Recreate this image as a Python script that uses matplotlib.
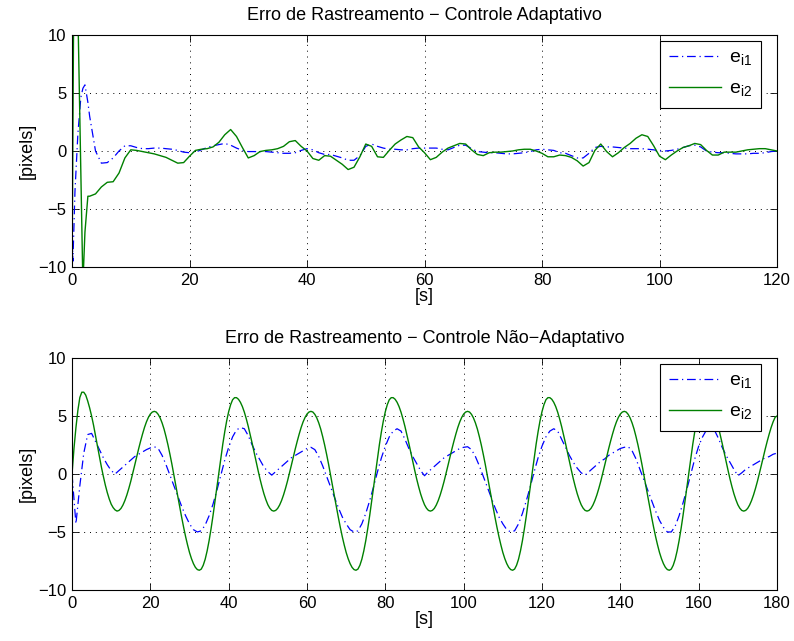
import numpy as np
import matplotlib
matplotlib.use('Agg')
import matplotlib.pyplot as plt

plt.rcParams['font.family'] = ['Liberation Sans', 'DejaVu Sans']
plt.rcParams['mathtext.fontset'] = 'custom'
plt.rcParams['mathtext.rm'] = 'Liberation Sans'

# ---- top panel: adaptive control, 0..120 s ----
t_top = [0, 0.15, 0.3, 0.5, 1.0, 1.5, 1.85, 2.2, 2.7] + list(range(3, 121))

ei1_adapt = [-6.0, -9.5, -7.0, -3.5, 1.5, 4.6, 5.4, 5.7, 4.2,
             3.0, 0.0, -1.05, -1.0, -0.6, 0.0, 0.45, 0.45, 0.3, 0.2,
             0.2, 0.25, 0.25, 0.2, 0.15, 0.05, -0.1, -0.15, -0.1, 0.1,
             0.3, 0.45, 0.55, 0.65, 0.5, 0.25, 0.05, -0.05, -0.05, -0.05,
             -0.05, -0.1, -0.15, -0.2, -0.2, -0.15, 0.05, 0.2, 0.1, -0.15,
             -0.3, -0.3, -0.45, -0.6, -0.8, -0.8, -0.4, 0.4, 0.6, 0.4,
             0.25, 0.15, 0.15, 0.1, 0.1, 0.2, 0.25, 0.25, 0.25, 0.25,
             0.15, 0.1, 0.3, 0.5, 0.5, 0.2, -0.05, -0.1, -0.15, -0.15,
             -0.2, -0.25, -0.25, -0.2, -0.15, -0.05, 0.1, 0.15, 0.1, 0.05,
             -0.15, -0.2, -0.4, -0.6, -0.6, -0.2, 0.3, 0.4, 0.35, 0.35,
             0.3, 0.25, 0.2, 0.2, 0.2, 0.15, 0.1, 0.0, 0.0, 0.05,
             0.15, 0.3, 0.45, 0.5, 0.35, 0.0, -0.1, -0.15, -0.15, -0.2,
             -0.25, -0.25, -0.25, -0.2, -0.2, -0.15, -0.05, 0.0]

ei2_adapt = [-11.0, 1.5, 14.0, 14.0, 12.0, -1.8, -11.5, -7.0, -3.9,
             -3.9, -3.7, -3.1, -2.7, -2.65, -1.9, -0.6, 0.1, 0.05, -0.05,
             -0.15, -0.25, -0.4, -0.55, -0.8, -1.05, -1.0, -0.45, 0.05, 0.15,
             0.2, 0.35, 0.75, 1.4, 1.85, 1.25, 0.3, -0.6, -0.4, -0.05,
             0.05, 0.1, 0.2, 0.4, 0.8, 0.9, 0.4, 0.0, -0.65, -0.8,
             -0.4, -0.45, -0.8, -1.15, -1.6, -1.4, -0.5, 0.6, 0.4, -0.5,
             -0.55, 0.05, 0.6, 0.95, 1.25, 1.15, 0.35, -0.15, -0.75, -0.55,
             -0.1, 0.25, 0.45, 0.65, 0.6, 0.1, -0.3, -0.4, -0.15, -0.1,
             -0.1, -0.05, 0.0, 0.1, 0.15, 0.15, 0.0, -0.2, -0.5, -0.5,
             -0.35, -0.4, -0.55, -0.85, -1.3, -1.0, 0.05, 0.6, -0.05, -0.5,
             -0.15, 0.3, 0.65, 1.1, 1.4, 1.25, 0.45, -0.45, -0.75, -0.35,
             0.0, 0.3, 0.45, 0.65, 0.55, 0.05, -0.35, -0.35, -0.1, -0.1,
             -0.1, 0.0, 0.1, 0.15, 0.2, 0.2, 0.1, 0.0]

# ---- bottom panel: non-adaptive control, 0..180 s ----
t_bot_i1 = np.arange(0, 181)          # 1 s samples
t_bot_i2 = np.arange(0, 180.5, 0.5)   # 0.5 s samples

ei1_nonadapt = [0.0, -4.3, -1.0, 1.8, 3.4, 3.5, 2.8, 2.1, 1.4, 0.8,
                0.3, 0.0, 0.3, 0.6, 0.9, 1.2, 1.5, 1.7, 1.9, 2.1,
                2.25, 2.35, 2.2, 1.6, 0.8, -0.1, -1.0, -1.9, -2.8, -3.6,
                -4.3, -4.8, -5.0, -4.9, -4.4, -3.6, -2.6, -1.4, -0.1, 1.2,
                2.3, 3.2, 3.8, 4.0, 3.9, 3.3, 2.5, 1.8, 1.2, 0.6,
                0.2, -0.1, 0.2, 0.5, 0.8, 1.1, 1.4, 1.6, 1.8, 2.0,
                2.2, 2.3, 2.1, 1.5, 0.7, -0.2, -1.1, -2.0, -2.9, -3.7,
                -4.3, -4.8, -5.0, -4.9, -4.3, -3.4, -2.3, -1.1, 0.2, 1.4,
                2.4, 3.2, 3.7, 3.9, 3.7, 3.0, 2.2, 1.5, 0.9, 0.3,
                -0.15, 0.2, 0.5, 0.8, 1.1, 1.4, 1.6, 1.8, 2.0, 2.2,
                2.3, 2.35, 2.1, 1.5, 0.7, -0.2, -1.1, -2.0, -2.9, -3.7,
                -4.3, -4.8, -5.0, -4.9, -4.3, -3.4, -2.3, -1.1, 0.2, 1.4,
                2.4, 3.2, 3.7, 3.9, 3.7, 3.0, 2.3, 1.6, 1.0, 0.5,
                0.1, -0.1, 0.2, 0.5, 0.8, 1.1, 1.3, 1.6, 1.8, 2.0,
                2.2, 2.3, 2.35, 2.0, 1.3, 0.4, -0.5, -1.4, -2.3, -3.2,
                -4.0, -4.6, -5.0, -5.0, -4.5, -3.6, -2.5, -1.3, 0.0, 1.3,
                2.4, 3.2, 3.8, 4.0, 3.8, 3.1, 2.3, 1.6, 1.0, 0.4,
                -0.15, 0.1, 0.4, 0.6, 0.8, 1.0, 1.2, 1.4, 1.5, 1.7,
                1.8]

ei2_nonadapt = [
    # 0 .. 40.5
    0.0, 2.2, 4.0, 5.5, 6.6, 7.05, 7.05, 6.8, 6.3, 5.7,
    5.0, 4.2, 3.3, 2.4, 1.5, 0.6, -0.2, -0.95, -1.6, -2.15,
    -2.6, -2.9, -3.1, -3.2,
    -3.14, -2.97, -2.68, -2.29, -1.81, -1.25, -0.63, 0.05,
    0.75, 1.46, 2.16, 2.82, 3.44, 4.01, 4.49, 4.88, 5.17, 5.34,
    5.4, 5.34, 5.14, 4.83, 4.4, 3.87, 3.22, 2.5, 1.7, 0.85,
    -0.06, -0.98, -1.92, -2.85, -3.74, -4.6, -5.4, -6.12, -6.77, -7.3,
    -7.73, -8.05, -8.24, -8.3, -8.2, -7.87, -7.35, -6.63, -5.75, -4.72,
    -3.59, -2.36, -1.1, 0.16, 1.4, 2.58, 3.65, 4.6, 5.38, 5.98,
    # 41 .. 80.5
    6.4, 6.58, 6.58, 6.44, 6.18, 5.81, 5.33, 4.75, 4.1, 3.39,
    2.64, 1.86, 1.07, 0.31, -0.43, -1.1, -1.71, -2.22, -2.65, -2.95,
    -3.14, -3.2, -3.14, -2.97, -2.68, -2.29, -1.81, -1.25, -0.63, 0.05,
    0.75, 1.46, 2.16, 2.82, 3.44, 4.01, 4.49, 4.88, 5.17, 5.34,
    5.4, 5.34, 5.14, 4.83, 4.4, 3.87, 3.22, 2.5, 1.7, 0.85,
    -0.06, -0.98, -1.92, -2.85, -3.74, -4.6, -5.4, -6.12, -6.77, -7.3,
    -7.73, -8.05, -8.24, -8.3, -8.2, -7.87, -7.35, -6.63, -5.75, -4.72,
    -3.59, -2.36, -1.1, 0.16, 1.4, 2.58, 3.65, 4.6, 5.38, 5.98,
    # 81 .. 120.5
    6.4, 6.58, 6.58, 6.44, 6.18, 5.81, 5.33, 4.75, 4.1, 3.39,
    2.64, 1.86, 1.07, 0.31, -0.43, -1.1, -1.71, -2.22, -2.65, -2.95,
    -3.14, -3.2, -3.14, -2.97, -2.68, -2.29, -1.81, -1.25, -0.63, 0.05,
    0.75, 1.46, 2.16, 2.82, 3.44, 4.01, 4.49, 4.88, 5.17, 5.34,
    5.4, 5.34, 5.14, 4.83, 4.4, 3.87, 3.22, 2.5, 1.7, 0.85,
    -0.06, -0.98, -1.92, -2.85, -3.74, -4.6, -5.4, -6.12, -6.77, -7.3,
    -7.73, -8.05, -8.24, -8.3, -8.2, -7.87, -7.35, -6.63, -5.75, -4.72,
    -3.59, -2.36, -1.1, 0.16, 1.4, 2.58, 3.65, 4.6, 5.38, 5.98,
    # 121 .. 160.5
    6.4, 6.58, 6.58, 6.44, 6.18, 5.81, 5.33, 4.75, 4.1, 3.39,
    2.64, 1.86, 1.07, 0.31, -0.43, -1.1, -1.71, -2.22, -2.65, -2.95,
    -3.14, -3.2, -3.14, -2.97, -2.68, -2.29, -1.81, -1.25, -0.63, 0.05,
    0.75, 1.46, 2.16, 2.82, 3.44, 4.01, 4.49, 4.88, 5.17, 5.34,
    5.4, 5.34, 5.14, 4.83, 4.4, 3.87, 3.22, 2.5, 1.7, 0.85,
    -0.06, -0.98, -1.92, -2.85, -3.74, -4.6, -5.4, -6.12, -6.77, -7.3,
    -7.73, -8.05, -8.24, -8.3, -8.2, -7.87, -7.35, -6.63, -5.75, -4.72,
    -3.59, -2.36, -1.1, 0.16, 1.4, 2.58, 3.65, 4.6, 5.38, 5.98,
    # 161 .. 180
    6.4, 6.58, 6.58, 6.44, 6.18, 5.81, 5.33, 4.75, 4.1, 3.39,
    2.64, 1.86, 1.07, 0.31, -0.43, -1.1, -1.71, -2.22, -2.65, -2.95,
    -3.14, -3.2, -3.14, -2.97, -2.68, -2.29, -1.81, -1.25, -0.63, 0.05,
    0.75, 1.46, 2.16, 2.82, 3.44, 4.01, 4.49, 4.88, 5.0]

labels = [r'e$_{\mathregular{i1}}$', r'e$_{\mathregular{i2}}$']
blue = (0, 0, 1)
green = (0, 0.5, 0)
fs = 12
fs_big = 13


def style_axes(ax, xmax, title):
    ax.set_xlim(0, xmax)
    ax.set_ylim(-10, 10)
    ax.set_xticks(np.arange(0, xmax + 1, 20))
    ax.set_yticks([-10, -5, 0, 5, 10])
    ax.tick_params(direction='in', top=True, right=True, length=5,
                   width=0.6, labelsize=fs, pad=4)
    ax.grid(True, color='k', linestyle=(0, (1, 5)), linewidth=0.7)
    for s in ax.spines.values():
        s.set_linewidth(0.8)
    ax.set_title(title, fontsize=fs_big, pad=11)
    ax.set_xlabel('[s]', fontsize=fs_big, labelpad=0)
    ax.set_ylabel('[pixels]', fontsize=fs_big, labelpad=2)
    leg = ax.legend(labels, loc='upper right', bbox_to_anchor=(0.977, 0.975),
                    borderaxespad=0, fancybox=False, framealpha=1,
                    edgecolor='k', fontsize=fs_big + 1, handlelength=2.7,
                    labelspacing=0.6, borderpad=0.45, handletextpad=0.4)
    leg.get_frame().set_linewidth(0.8)


fig = plt.figure(figsize=(7.94, 6.41), dpi=100)
ax1 = fig.add_axes([0.0907, 0.5835, 0.8879, 0.3619])
ax2 = fig.add_axes([0.0907, 0.0796, 0.8879, 0.3619])

ax1.plot(t_top, ei1_adapt, color=blue, linestyle=(0, (7, 3, 1, 3)), linewidth=0.9)
ax1.plot(t_top, ei2_adapt, color=green, linewidth=1.0)
style_axes(ax1, 120, 'Erro de Rastreamento \u2212 Controle Adaptativo')

ax2.plot(t_bot_i1, ei1_nonadapt, color=blue, linestyle=(0, (7, 3, 1, 3)), linewidth=0.9)
ax2.plot(t_bot_i2, ei2_nonadapt, color=green, linewidth=1.0)
style_axes(ax2, 180, 'Erro de Rastreamento \u2212 Controle N\u00e3o\u2212Adaptativo')

fig.savefig('out.png', dpi=100)
